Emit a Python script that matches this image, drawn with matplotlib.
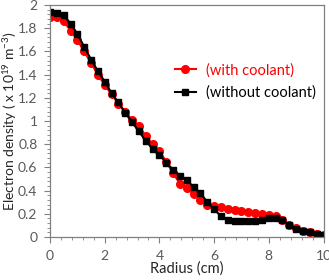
import matplotlib
matplotlib.use("Agg")
import matplotlib.pyplot as plt
import numpy as np
from matplotlib.ticker import MultipleLocator

plt.rcParams['font.family'] = ['Lato', 'DejaVu Sans']
plt.rcParams['mathtext.fontset'] = 'custom'
plt.rcParams['mathtext.rm'] = 'Lato'
plt.rcParams['mathtext.it'] = 'Lato:italic'

# radius (cm), one point every 0.25 cm
radius = [i * 0.25 for i in range(41)]

with_coolant = [1.90, 1.90, 1.86, 1.78, 1.70, 1.60, 1.50, 1.40, 1.31, 1.23,
                1.15, 1.08, 1.01, 0.96, 0.87, 0.80, 0.74, 0.65, 0.55, 0.46,
                0.42, 0.37, 0.32, 0.28, 0.265, 0.255, 0.245, 0.235, 0.225, 0.215,
                0.205, 0.195, 0.19, 0.18, 0.15, 0.10, 0.075, 0.055, 0.04, 0.03,
                0.02]

without_coolant = [1.94, 1.93, 1.91, 1.84, 1.75, 1.64, 1.53, 1.43, 1.34, 1.24,
                   1.16, 1.07, 0.99, 0.91, 0.83, 0.76, 0.71, 0.64, 0.58, 0.53,
                   0.49, 0.43, 0.38, 0.30, 0.24, 0.18, 0.15, 0.14, 0.14, 0.14,
                   0.14, 0.15, 0.16, 0.16, 0.15, 0.10, 0.07, 0.05, 0.04, 0.03,
                   0.02]

fig = plt.figure(figsize=(3.29, 2.80), dpi=100)
ax = fig.add_axes([50/329, 43/280, 273.5/329, 232/280])

ax.plot(radius, with_coolant, color="red", marker="o", markersize=5.5,
        linewidth=1.5, label="(with coolant)")
ax.plot(radius, without_coolant, color="black", marker="s", markersize=5,
        linewidth=1.5, label="(without coolant)")

ax.set_xlim(0, 10)
ax.set_ylim(0, 2)
ax.xaxis.set_major_locator(MultipleLocator(2))
ax.xaxis.set_minor_locator(MultipleLocator(0.4))
ax.yaxis.set_minor_locator(MultipleLocator(0.04))
ax.set_yticks(np.arange(0, 2.01, 0.2))
ax.set_yticklabels(["0", "0.2", "0.4", "0.6", "0.8", "1", "1.2", "1.4", "1.6", "1.8", "2"])

ax.tick_params(which="both", direction="out", colors="#808080", labelcolor="#595959",
               labelsize=10)
ax.tick_params(which="major", length=4, pad=5)
ax.tick_params(which="minor", length=2.5)
for s in ax.spines.values():
    s.set_color("#808080")
    s.set_linewidth(0.9)

ax.set_xlabel("Radius (cm)", fontsize=10.5, color="#262626", labelpad=0)
ax.set_ylabel("Electron density ( x 10$^{19}$ m$^{-3}$)", fontsize=10,
              color="#262626")
ax.yaxis.set_label_coords(-0.115, 0.5)

leg = ax.legend(loc="center left", bbox_to_anchor=(0.41, 0.67), frameon=False,
                fontsize=10.5, handlelength=1.4, handletextpad=0.7, labelspacing=0.55)
for t, c in zip(leg.get_texts(), ["red", "black"]):
    t.set_color(c)

fig.savefig("out.png", dpi=100)
